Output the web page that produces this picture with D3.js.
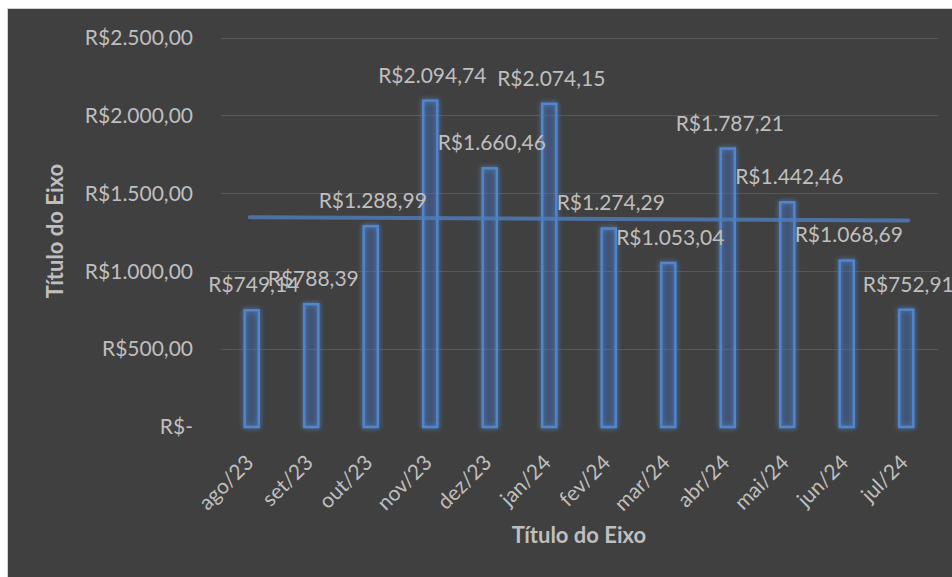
<!DOCTYPE html>
<html>
<head>
<meta charset="utf-8">
<script src="https://cdn.jsdelivr.net/npm/d3@7"></script>
<style>
  html, body { margin: 0; padding: 0; background: #fff; }
  svg { display: block; }
  text { font-family: Lato, "Open Sans", sans-serif; }
</style>
</head>
<body>
<svg id="chart"></svg>
<script>
/* DATA */
const months = ["ago/23", "set/23", "out/23", "nov/23", "dez/23", "jan/24",
                "fev/24", "mar/24", "abr/24", "mai/24", "jun/24", "jul/24"];
const values = [749.14, 788.39, 1288.99, 2094.74, 1660.46, 2074.15,
                1274.29, 1053.04, 1787.21, 1442.46, 1068.69, 752.91];
const yTicks = [0, 500, 1000, 1500, 2000, 2500];
const axisTitle = "Título do Eixo";

/* CONSTANTS */
const width = 952, height = 577;
const margin = { top: 38, bottom: 150, left: 222, right: 16 };

// brazilian currency format, like excel does it
const brl = d3.formatLocale({ decimal: ",", thousands: ".", grouping: [3], currency: ["R$", ""] });
const fmt = brl.format("$,.2f");
const tickFmt = d => d === 0 ? "R$-" : fmt(d);

const svg = d3.select("#chart")
  .attr("width", width)
  .attr("height", height);

// glow for the bars
const defs = svg.append("defs");
const glow = defs.append("filter").attr("id", "glow")
  .attr("x", "-50%").attr("y", "-20%").attr("width", "200%").attr("height", "140%");
glow.append("feGaussianBlur").attr("in", "SourceGraphic").attr("stdDeviation", 2.5).attr("result", "blur");
const merge = glow.append("feMerge");
merge.append("feMergeNode").attr("in", "blur");
merge.append("feMergeNode").attr("in", "SourceGraphic");

// chart area background + thin border
svg.append("rect")
  .attr("x", 7.5).attr("y", 8.5)
  .attr("width", width).attr("height", height)
  .attr("fill", "#404040")
  .attr("stroke", "#d0d0d0")
  .attr("stroke-width", 1);

/* SCALES */
const x = d3.scaleBand()
  .domain(months)
  .range([margin.left, width - margin.right])
  .paddingInner(0.73)
  .paddingOuter(0.365);

const y = d3.scaleLinear()
  .domain([0, 2500])
  .range([427, 37.5]);

/* GRIDLINES + Y AXIS */
svg.append("g")
  .selectAll("line")
  .data(yTicks.filter(d => d > 0))
  .join("line")
    .attr("x1", margin.left - 1)
    .attr("x2", 938)
    .attr("y1", d => Math.round(y(d)) + 0.5)
    .attr("y2", d => Math.round(y(d)) + 0.5)
    .attr("stroke", "#575757")
    .attr("stroke-width", 1.2);

svg.append("g")
  .selectAll("text")
  .data(yTicks)
  .join("text")
    .attr("x", 193)
    .attr("y", d => y(d))
    .attr("dy", "0.35em")
    .attr("text-anchor", "end")
    .attr("fill", "#bfbfbf")
    .style("font-size", "21px")
    .text(tickFmt);

/* BARS */
const bandC = d => x(d) + x.bandwidth() / 2;

svg.append("g")
  .selectAll("rect")
  .data(values)
  .join("rect")
    .attr("x", (d, i) => x(months[i]) + 1)
    .attr("y", d => y(d))
    .attr("width", x.bandwidth() - 2)
    .attr("height", d => y(0) - y(d))
    .attr("fill", "rgba(68,114,196,0.22)")
    .attr("stroke", "#4f86cc")
    .attr("stroke-width", 2.5)
    .attr("filter", "url(#glow)");

/* LINEAR TREND (least squares over the 12 points) */
const idx = values.map((d, i) => i + 1);
const mx = d3.mean(idx), my = d3.mean(values);
const slope = d3.sum(idx, (k, i) => (k - mx) * (values[i] - my)) / d3.sum(idx, k => (k - mx) ** 2);
const icpt = my - slope * mx;

svg.append("line")
  .attr("x1", bandC(months[0]) - 2)
  .attr("x2", bandC(months[months.length - 1]) + 2)
  .attr("y1", y(icpt + slope * 1))
  .attr("y2", y(icpt + slope * 12))
  .attr("stroke", "rgba(79,125,190,0.8)")
  .attr("stroke-width", 4)
  .attr("stroke-linecap", "round");

/* DATA LABELS */
svg.append("g")
  .selectAll("text")
  .data(values)
  .join("text")
    .attr("x", (d, i) => bandC(months[i]) + 2)
    .attr("y", d => y(d) - 18)
    .attr("text-anchor", "middle")
    .attr("fill", "#bfbfbf")
    .style("font-size", "21px")
    .text(fmt);

/* X AXIS LABELS (rotated) */
svg.append("g")
  .selectAll("text")
  .data(months)
  .join("text")
    .attr("transform", d => `translate(${bandC(d) + 3},${464}) rotate(-45)`)
    .attr("text-anchor", "end")
    .attr("fill", "#bfbfbf")
    .style("font-size", "21px")
    .text(d => d);

/* AXIS TITLES */
svg.append("text")
  .attr("x", 579)
  .attr("y", 543)
  .attr("text-anchor", "middle")
  .attr("fill", "#bfbfbf")
  .style("font-size", "22px")
  .style("font-weight", "bold")
  .text(axisTitle);

svg.append("text")
  .attr("transform", "translate(63,231) rotate(-90)")
  .attr("text-anchor", "middle")
  .attr("fill", "#bfbfbf")
  .style("font-size", "22px")
  .style("font-weight", "bold")
  .text(axisTitle);
</script>
</body>
</html>
